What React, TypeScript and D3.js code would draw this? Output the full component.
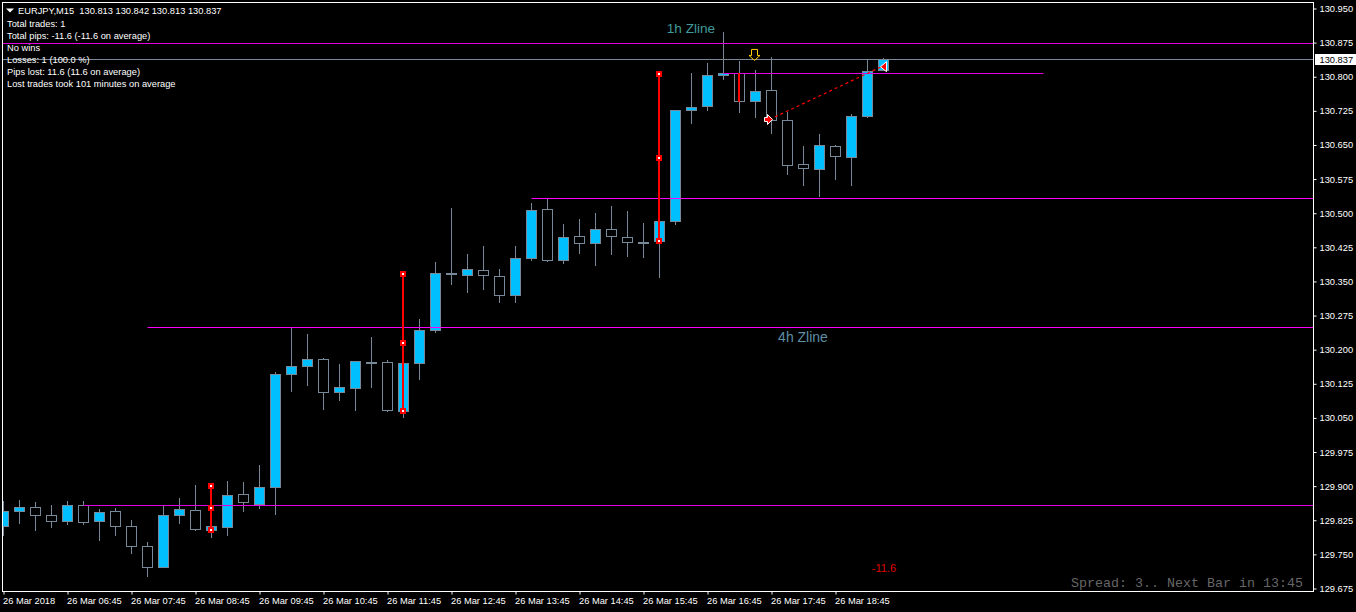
/**
 * EURJPY M15 candlestick chart, terminal look, drawn with D3
 */

import * as d3 from "d3";
import React, { useEffect, useRef } from "react";

const WIDTH = 1356;
const HEIGHT = 612;

// one entry per 15 minute bar, first bar is 05:45
const opens = [
  129.811, 129.844, 129.854, 129.836, 129.822, 129.858, 129.822, 129.845, 129.812, 129.768,
  129.722, 129.836, 129.847, 129.803, 129.809, 129.882, 129.859, 129.898, 130.145, 130.163,
  130.179, 130.106, 130.114, 130.172, 130.172, 130.064, 130.169, 130.242, 130.367, 130.363,
  130.375, 130.361, 130.319, 130.4, 130.509, 130.396, 130.449, 130.433, 130.465, 130.447,
  130.436, 130.437, 130.481, 130.725, 130.734, 130.802, 130.808, 130.745, 130.77, 130.704,
  130.606, 130.596, 130.647, 130.622, 130.712, 130.813,
];
const highs = [
  129.868, 129.87, 129.865, 129.858, 129.867, 129.867, 129.849, 129.852, 129.825, 129.777,
  129.858, 129.874, 129.902, 129.812, 129.911, 129.909, 129.947, 130.151, 130.248, 130.235,
  130.182, 130.169, 130.175, 130.228, 130.177, 130.17, 130.267, 130.393, 130.512, 130.41,
  130.428, 130.377, 130.428, 130.523, 130.534, 130.476, 130.487, 130.501, 130.516, 130.505,
  130.479, 130.482, 130.726, 130.808, 130.83, 130.898, 130.835, 130.815, 130.843, 130.722,
  130.648, 130.674, 130.65, 130.718, 130.837, 130.842,
];
const lows = [
  129.791, 129.817, 129.802, 129.808, 129.815, 129.815, 129.78, 129.791, 129.75, 129.701,
  129.722, 129.817, 129.802, 129.786, 129.791, 129.843, 129.85, 129.837, 130.107, 130.12,
  130.068, 130.087, 130.065, 130.116, 130.062, 130.05, 130.134, 130.237, 130.342, 130.325,
  130.331, 130.303, 130.303, 130.395, 130.393, 130.388, 130.41, 130.384, 130.408, 130.404,
  130.402, 130.358, 130.474, 130.696, 130.725, 130.793, 130.72, 130.709, 130.674, 130.584,
  130.56, 130.536, 130.573, 130.56, 130.709, 130.813,
];
const closes = [
  129.845, 129.852, 129.836, 129.823, 129.858, 129.821, 129.843, 129.812, 129.768, 129.722,
  129.836, 129.849, 129.805, 129.812, 129.88, 129.863, 129.898, 130.146, 130.164, 130.179,
  130.106, 130.117, 130.175, 130.172, 130.066, 130.17, 130.243, 130.368, 130.366, 130.377,
  130.363, 130.319, 130.401, 130.506, 130.396, 130.447, 130.433, 130.465, 130.448, 130.435,
  130.434, 130.482, 130.726, 130.733, 130.803, 130.808, 130.745, 130.768, 130.703, 130.605,
  130.598, 130.649, 130.624, 130.713, 130.812, 130.837,
];

const priceTicks = [
  130.95, 130.875, 130.8, 130.725, 130.65, 130.575, 130.5, 130.425, 130.35, 130.275, 130.2,
  130.125, 130.05, 129.975, 129.9, 129.825, 129.75, 129.675,
];
const timeTickBars = [0, 4, 8, 12, 16, 20, 24, 28, 32, 36, 40, 44, 48, 52];
const timeTickLabels = [
  "26 Mar 2018", "26 Mar 06:45", "26 Mar 07:45", "26 Mar 08:45", "26 Mar 09:45",
  "26 Mar 10:45", "26 Mar 11:45", "26 Mar 12:45", "26 Mar 13:45", "26 Mar 14:45",
  "26 Mar 15:45", "26 Mar 16:45", "26 Mar 17:45", "26 Mar 18:45",
];

// level, first bar (fractional bars run on to the empty area), last bar
const levelPrices = [130.873, 130.807, 130.532, 130.249, 129.857];
const levelFrom = [-0.2, 45, 33, 9, 5];
const levelTo = [82.5, 65, 82.5, 82.5, 82.5];
const levelColors = ["#e000e0", "#e000e0", "#ff00ff", "#ff00ff", "#e000e0"];

const bidPrice = 130.837;

// red trade bars with their three markers
const tradeBars = [13, 25, 41];
const tradeTops = [129.901, 130.366, 130.805];
const tradeMids = [129.852, 130.215, 130.621];
const tradeBottoms = [129.804, 130.065, 130.44];

const infoLines = [
  "Total trades: 1",
  "Total pips: -11.6 (-11.6 on average)",
  "No wins",
  "Losses: 1 (100.0 %)",
  "Pips lost: 11.6 (11.6 on average)",
  "Lost trades took 101 minutes on average",
];

const UI_FONT = "'Liberation Sans', Arial, sans-serif";
const UI_SIZE = "9.3px";
const BLUE = "#00bfff";
const GREY = "#778899";

const App: React.FC = () => {
  const svgRef = useRef<SVGSVGElement>(null);

  useEffect(() => {
    if (!svgRef.current) return;
    document.body.style.margin = "0";
    document.body.style.background = "#000";

    const svg = d3.select(svgRef.current);
    svg.selectAll("*").remove();

    const frame = { left: 2.5, top: 2.5, right: 1313.5, bottom: 591.5 };

    // 16px per bar, wick centred on the pixel
    const x = d3.scaleLinear().domain([0, 55]).range([3.5, 883.5]);
    const y = d3.scaleLinear().domain([129.675, 130.95]).range([588.5, 8.5]);

    svg
      .append("defs")
      .append("clipPath")
      .attr("id", "plot")
      .append("rect")
      .attr("x", frame.left + 0.5)
      .attr("y", frame.top + 0.5)
      .attr("width", frame.right - frame.left - 1)
      .attr("height", frame.bottom - frame.top - 1);

    const plot = svg.append("g").attr("clip-path", "url(#plot)");

    // Candles
    const bars = d3.range(opens.length);
    const candle = plot.append("g").selectAll("g").data(bars).join("g");

    candle
      .append("line")
      .attr("x1", (i) => x(i))
      .attr("x2", (i) => x(i))
      .attr("y1", (i) => Math.round(y(highs[i])))
      .attr("y2", (i) => Math.round(y(lows[i])))
      .attr("stroke", GREY);

    candle
      .append("rect")
      .attr("x", (i) => x(i) - 5)
      .attr("width", 10)
      .attr("y", (i) => Math.floor(y(Math.max(opens[i], closes[i]))) + 0.5)
      .attr("height", (i) =>
        Math.max(
          Math.floor(y(Math.min(opens[i], closes[i]))) -
            Math.floor(y(Math.max(opens[i], closes[i]))),
          1,
        ),
      )
      .attr("fill", (i) => (closes[i] > opens[i] ? BLUE : "#000"))
      .attr("stroke", GREY);

    // Horizontal levels
    plot
      .append("g")
      .selectAll("line")
      .data(levelPrices)
      .join("line")
      .attr("x1", (d, i) => x(levelFrom[i]))
      .attr("x2", (d, i) => x(levelTo[i]))
      .attr("y1", (d) => Math.floor(y(d)) + 0.5)
      .attr("y2", (d) => Math.floor(y(d)) + 0.5)
      .attr("stroke", (d, i) => levelColors[i]);

    // Bid line
    plot
      .append("line")
      .attr("x1", frame.left)
      .attr("x2", frame.right)
      .attr("y1", Math.floor(y(bidPrice)) + 0.5)
      .attr("y2", Math.floor(y(bidPrice)) + 0.5)
      .attr("stroke", GREY);

    // Red trade bars
    plot
      .append("line")
      .attr("x1", Math.floor(x(46)))
      .attr("x2", Math.floor(x(46)))
      .attr("y1", y(closes[46]))
      .attr("y2", y(opens[46]))
      .attr("stroke", "#ff0000")
      .attr("stroke-width", 2);

    const trade = plot.append("g").selectAll("g").data(tradeBars).join("g");
    trade
      .append("line")
      .attr("x1", (d) => Math.floor(x(d)))
      .attr("x2", (d) => Math.floor(x(d)))
      .attr("y1", (d, i) => y(tradeTops[i]))
      .attr("y2", (d, i) => y(tradeBottoms[i]))
      .attr("stroke", "#ff0000")
      .attr("stroke-width", 2);

    tradeBars.forEach((bar, i) => {
      [tradeTops[i], tradeMids[i], tradeBottoms[i]].forEach((price) => {
        const px = Math.floor(x(bar));
        const py = Math.round(y(price));
        plot
          .append("rect")
          .attr("x", px - 3)
          .attr("y", py - 3)
          .attr("width", 6)
          .attr("height", 6)
          .attr("fill", "#ff0000");
        plot
          .append("rect")
          .attr("x", px - 1)
          .attr("y", py - 1)
          .attr("width", 2)
          .attr("height", 2)
          .attr("fill", "#fff");
      });
    });

    // Closed trade, dotted link between the two arrows
    const entryX = x(48) - 2;
    const exitX = x(55) - 2;
    const entryY = y(130.706);
    const exitY = y(130.822);
    plot
      .append("line")
      .attr("x1", entryX)
      .attr("y1", entryY)
      .attr("x2", exitX)
      .attr("y2", exitY)
      .attr("stroke", "#ff0000")
      .attr("stroke-width", 1.2)
      .attr("stroke-dasharray", "3 3");

    plot
      .append("path")
      .attr("d", `M${entryX - 5},${entryY - 2}h3v-3l5,5l-5,5v-3h-3z`)
      .attr("fill", "#ff0000")
      .attr("stroke", "#fff");

    plot
      .append("path")
      .attr("d", `M${exitX - 1},${exitY}l6,-5v10z`)
      .attr("fill", "#ff0000")
      .attr("stroke", "#fff");

    // Signal arrow above bar 47
    const signalX = x(47) - 1;
    const signalY = y(130.849);
    plot
      .append("path")
      .attr("d", `M${signalX - 3},${signalY - 5}h6v6h2.5l-5.5,5l-5.5,-5h2.5z`)
      .attr("fill", "none")
      .attr("stroke", "#ffd000");

    // Frame
    svg
      .append("rect")
      .attr("x", frame.left)
      .attr("y", frame.top)
      .attr("width", frame.right - frame.left)
      .attr("height", frame.bottom - frame.top)
      .attr("fill", "none")
      .attr("stroke", "#fff");

    // Price axis
    const yAxis = svg
      .append("g")
      .attr("transform", `translate(${frame.right},0)`)
      .call(
        d3
          .axisRight(y)
          .tickValues(priceTicks)
          .tickSize(3)
          .tickPadding(3)
          .tickFormat((d) => d3.format(".3f")(d as number)),
      );
    yAxis.select(".domain").remove();
    yAxis.selectAll("line").attr("stroke", "#fff");
    yAxis
      .selectAll("text")
      .attr("fill", "#fff")
      .style("font-family", UI_FONT)
      .style("font-size", UI_SIZE);

    // Bid label
    svg
      .append("rect")
      .attr("x", 1315)
      .attr("y", Math.round(y(bidPrice)) - 6)
      .attr("width", 41)
      .attr("height", 11)
      .attr("fill", "#fff");
    svg
      .append("text")
      .attr("x", 1319.5)
      .attr("y", y(bidPrice))
      .attr("dy", "0.32em")
      .attr("fill", "#000")
      .style("font-family", UI_FONT)
      .style("font-size", UI_SIZE)
      .text(d3.format(".3f")(bidPrice));

    // Time axis
    const xAxis = svg
      .append("g")
      .attr("transform", `translate(0,${frame.bottom})`)
      .call(
        d3
          .axisBottom(x)
          .tickValues(timeTickBars)
          .tickSize(3)
          .tickFormat((d, i) => timeTickLabels[i]),
      );
    xAxis.select(".domain").remove();
    xAxis.selectAll("line").attr("stroke", "#fff");
    xAxis
      .selectAll("text")
      .attr("fill", "#fff")
      .attr("text-anchor", "start")
      .attr("x", -1)
      .attr("y", 5.5)
      .attr("dy", "0.71em")
      .style("font-family", UI_FONT)
      .style("font-size", UI_SIZE);

    // Header and trade statistics
    svg.append("path").attr("d", "M6,8.5h8l-4,4z").attr("fill", "#fff");
    svg
      .append("text")
      .attr("x", 18)
      .attr("y", 13.5)
      .attr("fill", "#fff")
      .style("white-space", "pre")
      .style("font-family", UI_FONT)
      .style("font-size", UI_SIZE)
      .text("EURJPY,M15  130.813 130.842 130.813 130.837");

    svg
      .append("g")
      .selectAll("text")
      .data(infoLines)
      .join("text")
      .attr("x", 7)
      .attr("y", (d, i) => 26.5 + i * 12.15)
      .attr("fill", "#fff")
      .style("font-family", UI_FONT)
      .style("font-size", UI_SIZE)
      .text((d) => d);

    // Zline names
    svg
      .append("text")
      .attr("x", 691)
      .attr("y", 33)
      .attr("text-anchor", "middle")
      .attr("fill", "#3f9a9a")
      .style("font-family", UI_FONT)
      .style("font-size", "13.6px")
      .text("1h Zline");
    svg
      .append("text")
      .attr("x", 803)
      .attr("y", 342)
      .attr("text-anchor", "middle")
      .attr("fill", "#5f8fa5")
      .style("font-family", UI_FONT)
      .style("font-size", "14px")
      .text("4h Zline");

    // Profit label and spread counter
    svg
      .append("text")
      .attr("x", 884)
      .attr("y", 572)
      .attr("text-anchor", "middle")
      .attr("fill", "#e00000")
      .style("font-family", UI_FONT)
      .style("font-size", "11px")
      .text("-11.6");
    svg
      .append("text")
      .attr("x", 1303)
      .attr("y", 587)
      .attr("text-anchor", "end")
      .attr("fill", "#666")
      .style("font-family", "'Liberation Mono', monospace")
      .style("font-size", "13.33px")
      .text("Spread: 3.. Next Bar in 13:45");
  }, []);

  return (
    <svg
      ref={svgRef}
      width={WIDTH}
      height={HEIGHT}
      style={{ display: "block", background: "#000" }}
    />
  );
};

export default App;
